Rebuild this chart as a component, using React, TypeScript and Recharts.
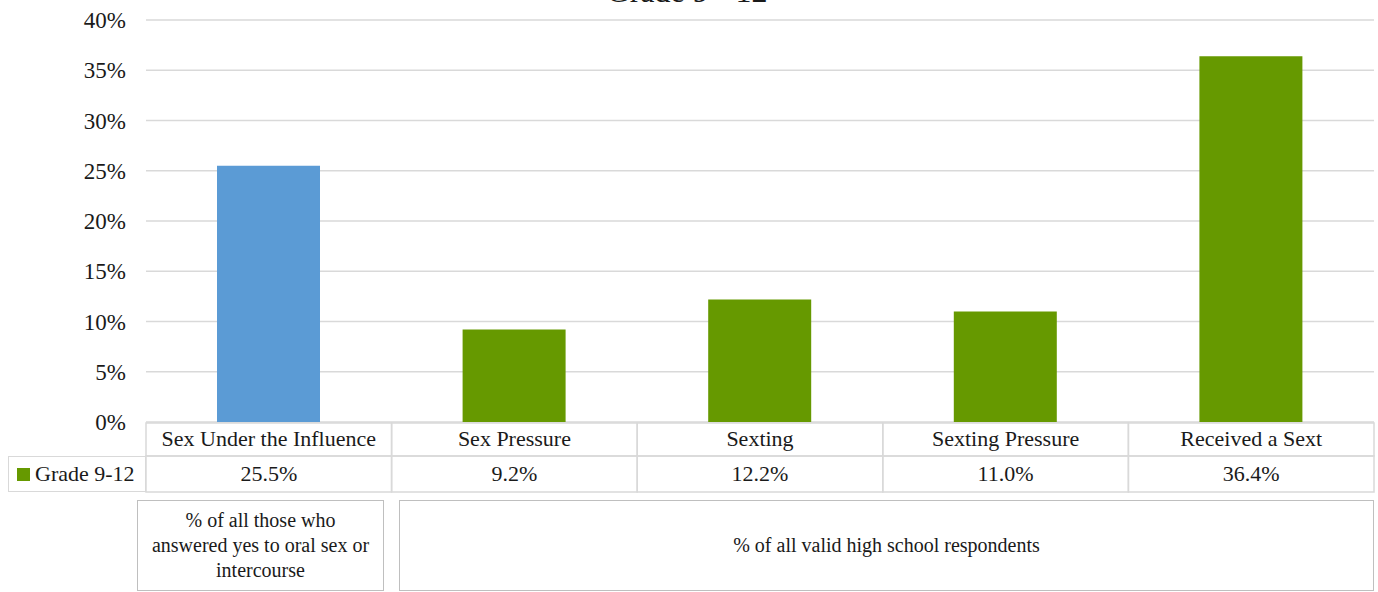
import { Bar, BarChart, CartesianGrid, Cell, Legend, XAxis, YAxis } from "recharts";

const CATEGORIES = [
  "Sex Under the Influence",
  "Sex Pressure",
  "Sexting",
  "Sexting Pressure",
  "Received a Sext",
];
const VALUES = [25.5, 9.2, 12.2, 11.0, 36.4];
const Y_TICKS = [0, 5, 10, 15, 20, 25, 30, 35, 40];
const SERIES_NAME = "Grade 9-12";
const TITLE = "Grade 9 - 12";
const NOTES = [
  "% of all those who answered yes to oral sex or intercourse",
  "% of all valid high school respondents",
];

const GREEN = "#669900";
const BLUE = "#5B9BD5";
const GRID = "#D9D9D9";
const BORDER = "#D9D9D9";
const BOX = "#BFBFBF";
const INK = "#1A1A1A";
const FONT = "Liberation Serif, DejaVu Serif, serif";

const W = 1378;
const H = 592;
const PLOT_LEFT = 146;
const PLOT_RIGHT = 1374;
const PLOT_TOP = 20;
const PLOT_BOTTOM = 422;
const COL_W = (PLOT_RIGHT - PLOT_LEFT) / CATEGORIES.length;
const ROW1_TOP = 423;
const ROW2_TOP = 456;
const ROW2_BOTTOM = 492;

const data = CATEGORIES.map((name, i) => ({ name, value: VALUES[i] }));

// cabeçalho + linha de valores da tabela de dados, desenhados por coluna
function TableTick(props: any) {
  const { x, payload, index } = props;
  const i = payload?.index ?? index;
  const left = x - COL_W / 2;
  return (
    <g>
      <rect x={left} y={ROW1_TOP} width={COL_W} height={ROW2_TOP - ROW1_TOP} fill="none" stroke={BORDER} strokeWidth={1.5} />
      <rect x={left} y={ROW2_TOP} width={COL_W} height={ROW2_BOTTOM - ROW2_TOP} fill="none" stroke={BORDER} strokeWidth={1.5} />
      <text x={x} y={ROW1_TOP + 23} textAnchor="middle" fill={INK} style={{ fontFamily: FONT, fontSize: 22 }}>
        {payload.value}
      </text>
      <text x={x} y={ROW2_TOP + 25} textAnchor="middle" fill={INK} style={{ fontFamily: FONT, fontSize: 22 }}>
        {VALUES[i].toFixed(1)}%
      </text>
    </g>
  );
}

function LegendCell() {
  return (
    <div
      style={{
        boxSizing: "border-box",
        width: PLOT_LEFT - 8,
        height: ROW2_BOTTOM - ROW2_TOP,
        border: `1.5px solid ${BORDER}`,
        display: "flex",
        alignItems: "center",
        paddingLeft: 8,
        fontSize: 22,
        color: INK,
        fontFamily: FONT,
        whiteSpace: "nowrap",
      }}
    >
      <span style={{ display: "inline-block", width: 13, height: 13, background: GREEN, marginRight: 5 }} />
      {SERIES_NAME}
    </div>
  );
}

export default function App() {
  return (
    <div style={{ position: "absolute", left: 0, top: 0, width: W, height: H, overflow: "hidden", background: "#fff", fontFamily: FONT }}>
      <div
        style={{
          position: "absolute",
          left: 0,
          width: W,
          top: -27,
          textAlign: "center",
          fontSize: 32,
          lineHeight: "36px",
          color: INK,
        }}
      >
        <span style={{ position: "relative", left: -2 }}>{TITLE}</span>
      </div>
      <BarChart
        width={W}
        height={H}
        data={data}
        style={{ fontFamily: FONT }}
        margin={{ top: PLOT_TOP, right: W - PLOT_RIGHT, left: 0, bottom: H - PLOT_BOTTOM - 70 }}
      >
        <CartesianGrid stroke={GRID} strokeWidth={1.5} vertical={false} />
        <XAxis dataKey="name" height={70} axisLine={false} tickLine={false} tick={<TableTick />} interval={0} />
        <YAxis
          width={PLOT_LEFT}
          domain={[0, 40]}
          ticks={Y_TICKS}
          tickFormatter={(v: number) => `${v}%`}
          axisLine={false}
          tickLine={false}
          tickSize={0}
          tickMargin={20}
          tick={{ fontSize: 23, fill: INK, style: { fontFamily: FONT } }}
        />
        <Legend
          layout="horizontal"
          verticalAlign="middle"
          align="center"
          wrapperStyle={{ left: 8, top: ROW2_TOP, width: PLOT_LEFT - 8, height: ROW2_BOTTOM - ROW2_TOP }}
          content={() => <LegendCell />}
        />
        <Bar dataKey="value" name={SERIES_NAME} fill={GREEN} barSize={103} isAnimationActive={false}>
          {data.map((d, i) => (
            <Cell key={d.name} fill={i === 0 ? BLUE : GREEN} />
          ))}
        </Bar>
      </BarChart>
      <div
        style={{
          position: "absolute",
          left: 137,
          top: 500,
          width: 247,
          height: 91,
          boxSizing: "border-box",
          border: `1.5px solid ${BOX}`,
          display: "flex",
          alignItems: "center",
          justifyContent: "center",
          textAlign: "center",
          fontSize: 20,
          lineHeight: "25px",
          color: INK,
          padding: "0 8px",
        }}
      >
        {NOTES[0]}
      </div>
      <div
        style={{
          position: "absolute",
          left: 399,
          top: 500,
          width: 975,
          height: 91,
          boxSizing: "border-box",
          border: `1.5px solid ${BOX}`,
          display: "flex",
          alignItems: "center",
          justifyContent: "center",
          textAlign: "center",
          fontSize: 20,
          color: INK,
        }}
      >
        {NOTES[1]}
      </div>
    </div>
  );
}
